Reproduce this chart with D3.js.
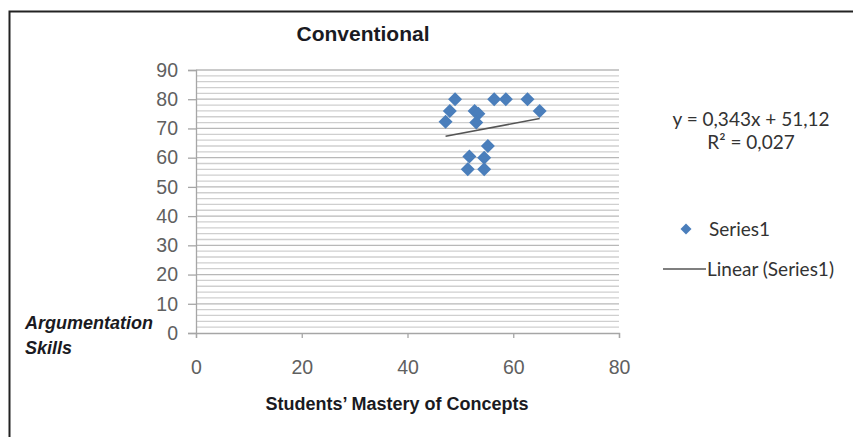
<!DOCTYPE html>
<html><head><meta charset="utf-8">
<script src="https://cdn.jsdelivr.net/npm/d3@7"></script>
<style>html,body{margin:0;padding:0;background:#fff;overflow:hidden}</style>
</head><body><svg id="c" width="853" height="437"></svg>
<script>
const masteryX = [49, 48, 47.2, 52.7, 53.4, 53, 56.4, 58.6, 62.7, 65, 55.2, 51.7, 54.5, 51.4, 54.5];
const skillsY  = [80, 76, 72.3, 76, 75, 72, 80, 80, 80, 76, 64, 60.4, 60, 56, 56];
const xTicks = [0, 20, 40, 60, 80];
const yTicks = [0, 10, 20, 30, 40, 50, 60, 70, 80, 90];
const trendSlope = 0.343, trendIntercept = 51.12;
const titleText = "Conventional";
const xTitle = "Students\u2019 Mastery of Concepts";
const yTitleLines = ["Argumentation", "Skills"];
const eqLines = ["y = 0,343x + 51,12", "R\u00b2 = 0,027"];
const legendLabels = ["Series1", "Linear (Series1)"];

const svg = d3.select("#c");
svg.append("rect").attr("x",9.5).attr("y",11.5).attr("width",900).attr("height",500)
  .attr("fill","#fff").attr("stroke","#222").attr("stroke-width",2);

const x = d3.scaleLinear().domain([0,80]).range([196,619]);
const y = d3.scaleLinear().domain([0,90]).range([333,70]);

// minor gridlines
const minor = d3.range(0,91,2).filter(v=>v%10!==0);
svg.append("g").selectAll("line").data(minor).join("line")
  .attr("x1",x(0)).attr("x2",x(80)).attr("y1",d=>y(d)).attr("y2",d=>y(d))
  .attr("stroke","#cfcfcf").attr("stroke-width",1.3);
svg.append("g").selectAll("line").data(yTicks.filter(v=>v>0)).join("line")
  .attr("x1",x(0)).attr("x2",x(80)).attr("y1",d=>y(d)).attr("y2",d=>y(d))
  .attr("stroke","#b8b8b8").attr("stroke-width",1.3);

// axes
const yAxis = d3.axisLeft(y).tickValues(yTicks).tickSize(8).tickPadding(10);
const gy = svg.append("g").attr("transform",`translate(${x(0)},0)`).call(yAxis);
const xAxis = d3.axisBottom(x).tickValues(xTicks).tickSize(5).tickPadding(22);
const gx = svg.append("g").attr("transform",`translate(0,${y(0)})`).call(xAxis);
[gx,gy].forEach(g=>{
  g.select(".domain").attr("stroke","#a6a6a6").attr("stroke-width",1.3);
  g.selectAll(".tick line").attr("stroke","#a6a6a6").attr("stroke-width",1.3);
  g.selectAll("text").attr("font-family","Liberation Sans, Arial, sans-serif")
   .attr("font-size",19.5).attr("fill","#606060");
});
gx.selectAll("text").attr("dy","0.71em");

// points
const diamond = s => `M0,${-s}L${s},0L0,${s}L${-s},0Z`;
const pts = masteryX.map((v,i)=>({x:v,y:skillsY[i]}));
svg.append("g").selectAll("path").data(pts).join("path")
  .attr("d",diamond(7)).attr("transform",d=>`translate(${x(d.x)},${y(d.y)})`)
  .attr("fill","#4a7ebb");

// trendline
const xmin = d3.min(masteryX), xmax = d3.max(masteryX);
svg.append("line").attr("x1",x(xmin)).attr("x2",x(xmax))
  .attr("y1",y(trendSlope*xmin+trendIntercept)).attr("y2",y(trendSlope*xmax+trendIntercept))
  .attr("stroke","#555").attr("stroke-width",1.6);

// title
svg.append("text").attr("x",363).attr("y",41).attr("text-anchor","middle")
  .attr("font-family","Liberation Sans, Arial, sans-serif").attr("font-weight","bold")
  .attr("font-size",21).attr("fill","#1a1a22").text(titleText);
svg.append("text").attr("x",397).attr("y",410).attr("text-anchor","middle")
  .attr("font-family","Liberation Sans, Arial, sans-serif").attr("font-weight","bold")
  .attr("font-size",18).attr("fill","#1a1a22").text(xTitle);
svg.append("g").selectAll("text").data(yTitleLines).join("text")
  .attr("x",25).attr("y",(d,i)=>329+i*25)
  .attr("font-family","Liberation Sans, Arial, sans-serif").attr("font-weight","bold")
  .attr("font-style","italic").attr("font-size",18).attr("fill","#1a1a22").text(d=>d);

// equation
const legFont = "Lato, Open Sans, sans-serif", legSize = 19;
svg.append("g").selectAll("text").data(eqLines).join("text")
  .attr("x",751).attr("y",(d,i)=>126+i*23).attr("text-anchor","middle")
  .attr("font-family",legFont).attr("font-size",legSize)
  .attr("fill","#333").text(d=>d);

// legend
svg.append("path").attr("d",diamond(5.5)).attr("transform","translate(686,229)").attr("fill","#4a7ebb");
svg.append("text").attr("x",709).attr("y",236).attr("font-family",legFont)
  .attr("font-size",legSize).attr("fill","#333").text(legendLabels[0]);
svg.append("line").attr("x1",663).attr("x2",706).attr("y1",269).attr("y2",269)
  .attr("stroke","#555").attr("stroke-width",1.6);
svg.append("text").attr("x",707).attr("y",276).attr("font-family",legFont)
  .attr("font-size",legSize).attr("fill","#333").text(legendLabels[1]);
</script></body></html>
